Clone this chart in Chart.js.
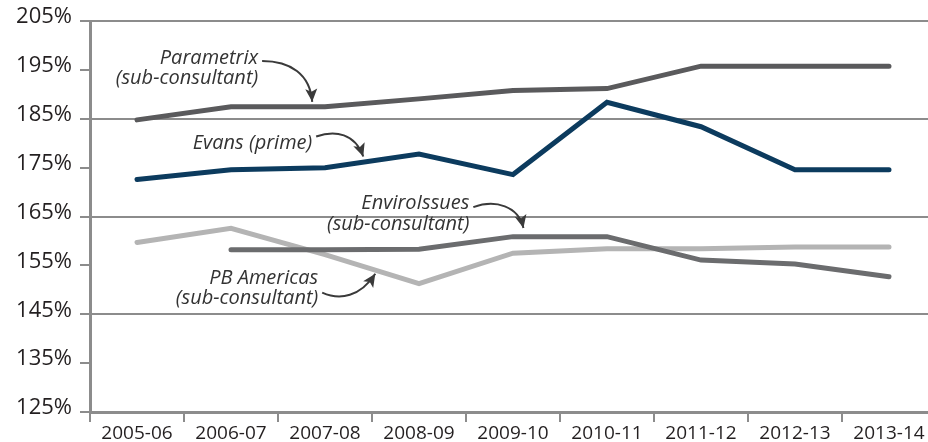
<!DOCTYPE html>
<html>
<head>
<meta charset="utf-8">
<script src="https://cdn.jsdelivr.net/npm/chart.js@4.4.0/dist/chart.umd.min.js"></script>
<style>
    html, body { margin: 0; padding: 0; overflow: hidden; background: #fff; }
    #wrap { width: 936px; height: 442px; position: relative; }
</style>
</head>
<body>
<div id="wrap"><canvas id="canvas"></canvas></div>
<script>
// fiscal years
const years = ['2005-06', '2006-07', '2007-08', '2008-09', '2009-10', '2010-11', '2011-12', '2012-13', '2013-14'];

// multipliers in %
const parametrix = [184.8, 187.5, 187.5, 189.1, 190.8, 191.2, 195.8, 195.8, 195.8];
const evans = [172.6, 174.6, 175.0, 177.8, 173.6, 188.4, 183.4, 174.6, 174.6];
const enviroIssues = [null, 158.2, 158.2, 158.3, 160.9, 160.9, 156.1, 155.3, 152.7];
const pbAmericas = [159.7, 162.6, 157.2, 151.3, 157.5, 158.4, 158.4, 158.8, 158.8];

const yTicks = [125, 135, 145, 155, 165, 175, 185, 195, 205];

// labels with arrows, positions in (category index, value)
const notes = [
    { lines: ['Parametrix', '(sub-consultant)'], at: [1.289, 196.3],
      arrow: [[1.331, 196.86], [1.629, 196.86], [1.842, 194.2], [1.864, 188.5]] },
    { lines: ['Evans (prime)'], at: [1.864, 178.74],
      arrow: [[1.906, 181.39], [2.109, 182.8], [2.322, 182.0], [2.407, 177.3]] },
    { lines: ['EnviroIssues', '(sub-consultant)'], at: [3.536, 166.53],
      arrow: [[3.578, 166.93], [3.813, 168.56], [4.058, 167.14], [4.111, 162.66]] },
    { lines: ['PB Americas', '(sub-consultant)'], at: [1.928, 151.26],
      arrow: [[1.970, 149.43], [2.162, 147.8], [2.375, 148.6], [2.535, 153.3]] }
];

const gridColor = '#8c8c8c';
const textColor = '#231f20';

const annotate = {
    id: 'annotate',
    afterDatasetsDraw(chart) {
        const ctx = chart.ctx;
        const x = chart.scales.x, y = chart.scales.y;
        ctx.save();
        notes.forEach(function (n) {
            let tx = x.getPixelForValue(n.at[0]);
            let ty = y.getPixelForValue(n.at[1]);
            ctx.font = 'italic 20px "Open Sans"';
            ctx.fillStyle = '#333333';
            ctx.textAlign = 'right';
            ctx.textBaseline = 'alphabetic';
            n.lines.forEach(function (t, k) {
                ctx.fillText(t, tx, ty + k * 20.5);
            });

            let p = n.arrow.map(function (q) {
                return [x.getPixelForValue(q[0]), y.getPixelForValue(q[1])];
            });
            ctx.strokeStyle = '#3a3a3a';
            ctx.fillStyle = '#3a3a3a';
            ctx.lineWidth = 2;
            ctx.beginPath();
            ctx.moveTo(p[0][0], p[0][1]);
            ctx.bezierCurveTo(p[1][0], p[1][1], p[2][0], p[2][1], p[3][0], p[3][1]);
            ctx.stroke();

            // arrow head
            let a = Math.atan2(p[3][1] - p[2][1], p[3][0] - p[2][0]);
            let len = 13, w = 6;
            let bx = p[3][0] - len * Math.cos(a), by = p[3][1] - len * Math.sin(a);
            ctx.beginPath();
            ctx.moveTo(p[3][0], p[3][1]);
            ctx.lineTo(bx - w * Math.sin(a), by + w * Math.cos(a));
            ctx.lineTo(bx + 3 * Math.cos(a), by + 3 * Math.sin(a));
            ctx.lineTo(bx + w * Math.sin(a), by - w * Math.cos(a));
            ctx.closePath();
            ctx.fill();
        });
        ctx.restore();
    }
};

function line(label, data, color) {
    return {
        label: label,
        data: data,
        borderColor: color,
        backgroundColor: color,
        borderWidth: 5,
        borderCapStyle: 'round',
        borderJoinStyle: 'miter',
        pointRadius: 0,
        tension: 0,
        fill: false
    };
}

const ctx = document.getElementById('canvas').getContext('2d');
new Chart(ctx, {
    type: 'line',
    data: {
        labels: years,
        datasets: [
            line('Evans (prime)', evans, '#0c3b5e'),
            line('Parametrix', parametrix, '#5a5a5c'),
            line('EnviroIssues', enviroIssues, '#6b6c6e'),
            line('PB Americas', pbAmericas, '#b4b4b4')
        ]
    },
    options: {
        responsive: true,
        maintainAspectRatio: false,
        animation: false,
        layout: { padding: { top: 19, left: 0, right: 0, bottom: 0 } },
        plugins: {
            legend: { display: false },
            tooltip: { enabled: false }
        },
        scales: {
            x: {
                type: 'category',
                offset: true,
                afterFit: function (s) { s.height = 30; },
                grid: {
                    offset: true,
                    drawOnChartArea: false,
                    drawTicks: true,
                    tickLength: 10,
                    color: gridColor,
                    lineWidth: 2
                },
                border: { display: true, color: gridColor, width: 3 },
                ticks: {
                    autoSkip: false,
                    maxRotation: 0,
                    padding: 0,
                    color: textColor,
                    font: { family: '"Liberation Sans Narrow", "Open Sans", sans-serif', size: 19 }
                }
            },
            y: {
                min: yTicks[0],
                max: yTicks[yTicks.length - 1],
                afterFit: function (s) { s.width = 90; },
                afterBuildTicks: function (s) {
                    s.ticks = yTicks.map(function (v) { return { value: v }; });
                },
                grid: {
                    color: function (c) {
                        return (c.tick && (c.tick.value - 125) % 20 === 0) ? gridColor : 'rgba(0,0,0,0)';
                    },
                    tickColor: gridColor,
                    lineWidth: 2,
                    drawTicks: true,
                    tickLength: 10
                },
                border: { display: true, color: gridColor, width: 3 },
                ticks: {
                    padding: 8,
                    labelOffset: -4,
                    color: textColor,
                    font: { family: '"Open Sans", sans-serif', size: 22 },
                    callback: function (v) { return v + '%'; }
                }
            }
        }
    },
    plugins: [annotate]
});
</script>
</body>
</html>
